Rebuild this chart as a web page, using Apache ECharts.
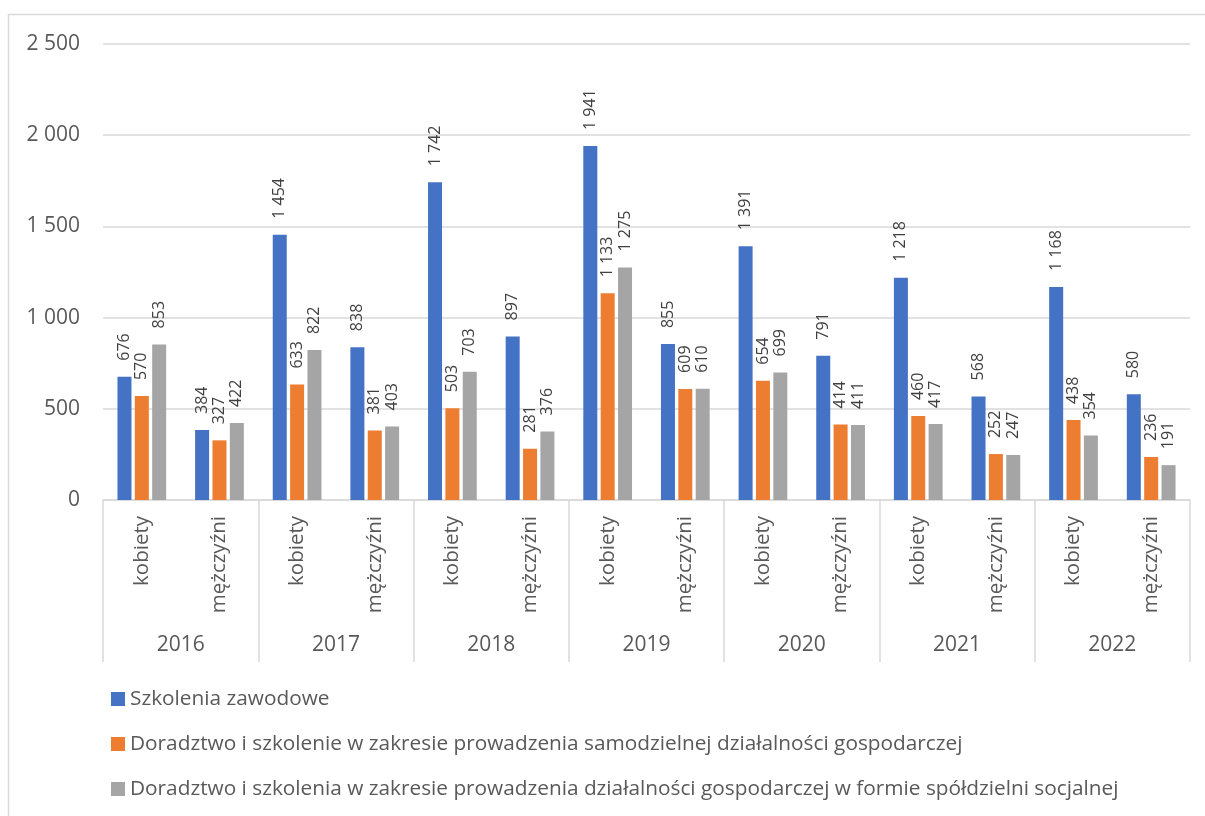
<!DOCTYPE html>
<html>
<head>
<meta charset="utf-8">
<script src="https://cdn.jsdelivr.net/npm/echarts@6/dist/echarts.min.js"></script>
<style>
html,body{margin:0;padding:0;background:#fff;}
#chart{width:1205px;height:816px;}
</style>
</head>
<body>
<div id="chart"></div>
<script>
const years = ['2016', '2017', '2018', '2019', '2020', '2021', '2022'];
const genders = ['kobiety', 'mężczyźni'];
const seriesNames = [
  'Szkolenia zawodowe',
  'Doradztwo i szkolenie w zakresie prowadzenia samodzielnej działalności gospodarczej',
  'Doradztwo i szkolenia w zakresie prowadzenia działalności gospodarczej w formie spółdzielni socjalnej'
];
const szkoleniaZawodowe = [676, 384, 1454, 838, 1742, 897, 1941, 855, 1391, 791, 1218, 568, 1168, 580];
const doradztwoSamodzielna = [570, 327, 633, 381, 503, 281, 1133, 609, 654, 414, 460, 252, 438, 236];
const doradztwoSpoldzielnia = [853, 422, 822, 403, 703, 376, 1275, 610, 699, 411, 417, 247, 354, 191];
const yTicks = [0, 500, 1000, 1500, 2000, 2500];

const colors = ['#4472C4', '#ED7D31', '#A5A5A5'];
const FONT = 'Open Sans';
const fmt = v => String(v).replace(/\B(?=(\d{3})+(?!\d))/g, ' ');

const categories = [];
years.forEach(y => genders.forEach(g => categories.push(g)));

const allValues = [szkoleniaZawodowe, doradztwoSamodzielna, doradztwoSpoldzielnia];

const chart = echarts.init(document.getElementById('chart'));
chart.setOption({
  animation: false,
  backgroundColor: '#fff',
  color: colors,
  textStyle: { fontFamily: FONT },
  graphic: [{
    type: 'rect',
    shape: { x: 8.5, y: 14.5, width: 1400, height: 1000 },
    style: { fill: 'none', stroke: '#D9D9D9', lineWidth: 1.5 },
    silent: true
  }],
  grid: { left: 103, right: 15, top: 44, bottom: 316, containLabel: false },
  legend: {
    orient: 'vertical',
    left: 111,
    top: 687,
    padding: 0,
    itemWidth: 14,
    itemHeight: 14,
    itemGap: 21,
    icon: 'rect',
    data: seriesNames,
    textStyle: { fontFamily: FONT, fontSize: 20.8, color: '#595959', lineHeight: 24 }
  },
  xAxis: [{
    type: 'category',
    data: categories,
    position: 'bottom',
    axisLine: { show: true, lineStyle: { color: '#D9D9D9', width: 1.5 } },
    axisTick: { show: false },
    axisLabel: {
      interval: 0, rotate: 90, margin: 16,
      fontFamily: FONT, fontSize: 20.5, color: '#595959'
    }
  }, {
    type: 'category',
    data: years,
    position: 'bottom',
    offset: 0,
    axisLine: { show: false },
    axisTick: { show: true, interval: 0, length: 162, lineStyle: { color: '#D9D9D9', width: 1.5 } },
    axisLabel: { interval: 0, margin: 135, fontFamily: FONT, fontSize: 21, color: '#595959' }
  }],
  yAxis: {
    type: 'value',
    min: yTicks[0],
    max: yTicks[yTicks.length - 1],
    interval: yTicks[1] - yTicks[0],
    axisLine: { show: false },
    axisTick: { show: false },
    splitLine: { lineStyle: { color: '#D9D9D9', width: 1.5 } },
    axisLabel: { margin: 23, fontFamily: FONT, fontSize: 21, color: '#595959', formatter: fmt }
  },
  series: allValues.map((vals, i) => ({
    name: seriesNames[i],
    type: 'bar',
    xAxisIndex: 0,
    data: vals,
    barWidth: 14,
    barGap: '24%',
    itemStyle: { color: colors[i] },
    label: {
      show: true,
      position: 'top',
      rotate: 90,
      align: 'left',
      verticalAlign: 'middle',
      distance: 16,
      fontFamily: FONT,
      fontSize: 16,
      color: '#404040',
      formatter: p => fmt(p.value)
    }
  }))
});
</script>
</body>
</html>
